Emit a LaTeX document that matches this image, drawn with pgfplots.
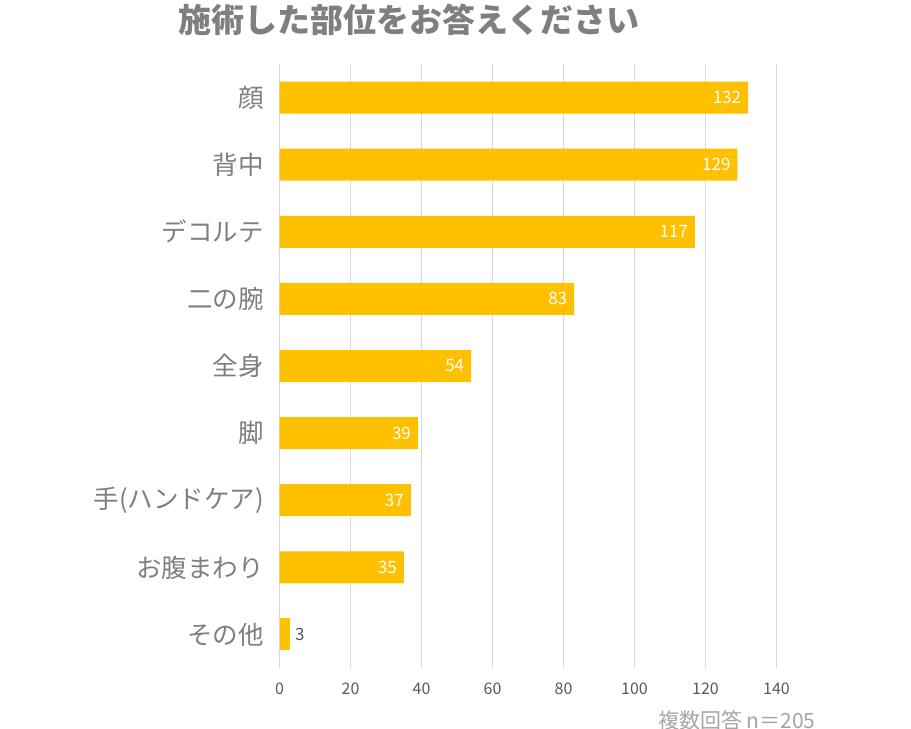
\documentclass[border=0pt]{standalone}
\usepackage{fontspec}
\setmainfont{Noto Sans CJK JP}
\usepackage{pgfplots}
\pgfplotsset{compat=1.18}
\definecolor{barc}{HTML}{FFC000}
\definecolor{gridc}{HTML}{D9D9D9}
\definecolor{ticklab}{HTML}{595959}
\definecolor{catlab}{HTML}{7F7F7F}
\definecolor{foot}{HTML}{A6A6A6}
\begin{document}
\begin{tikzpicture}
\useasboundingbox (0,0) rectangle (911bp,729bp);
\begin{axis}[
  at={(279.5bp,61bp)}, anchor=south west,
  scale only axis, width=497bp, height=604bp,
  xbar, bar width=32bp,
  xmin=0, xmax=140, ymin=-0.5, ymax=8.5,
  xtick={0,20,...,140},
  ytick={0,...,8},
  yticklabels={その他,お腹まわり,手(ハンドケア),脚,全身,二の腕,デコルテ,背中,顔},
  axis line style={draw=none},
  major tick length=0pt,
  xmajorgrids, major grid style={gridc, line width=0.8bp},
  /pgf/number format/assume math mode=true,
  xticklabel style={font=\fontsize{16bp}{18bp}\selectfont, text=ticklab, yshift=-11bp},
  yticklabel style={font=\fontsize{25.5bp}{28bp}\selectfont, text=catlab, xshift=-12bp},
  clip=false,
]
\addplot[fill=barc, draw=none, bar shift=0pt,
  nodes near coords, nodes near coords align={anchor=east},
  every node near coord/.append style={font=\fontsize{17bp}{20bp}\selectfont, text=white, xshift=-3.5bp}]
  coordinates {(132,8) (129,7) (117,6) (83,5) (54,4) (39,3) (37,2) (35,1)};
\addplot[fill=barc, draw=none, bar shift=0pt,
  nodes near coords, nodes near coords align={anchor=west},
  every node near coord/.append style={font=\fontsize{17bp}{20bp}\selectfont, text=ticklab, xshift=1.5bp}]
  coordinates {(3,0)};
\end{axis}
\node[font=\fontsize{33bp}{36bp}\selectfont\bfseries, text=catlab] at (409bp,709bp) {施術した部位をお答えください};
\node[font=\fontsize{21bp}{24bp}\selectfont, text=foot, anchor=east] at (819bp,9bp) {複数回答 n＝205};
\end{tikzpicture}
\end{document}
